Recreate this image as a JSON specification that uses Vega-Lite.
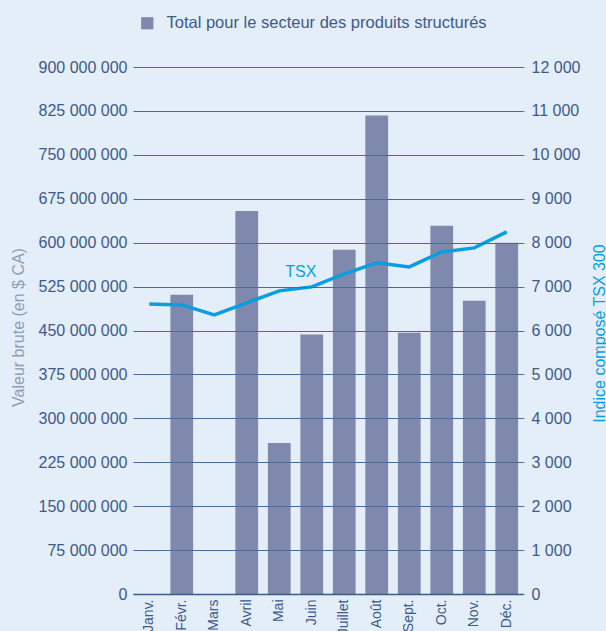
{
  "$schema": "https://vega.github.io/schema/vega-lite/v6.json",
  "width": 390,
  "height": 527,
  "autosize": "none",
  "padding": {"left": 133, "top": 67, "right": 83, "bottom": 37},
  "background": "#e4eef8",
  "config": {"view": {"stroke": null}, "font": "Liberation Sans"},
  "data": {"values": [
    {"mois": "Janv.", "valeur": 0, "tsx": 6606},
    {"mois": "Févr.", "valeur": 511000000, "tsx": 6583},
    {"mois": "Mars", "valeur": 0, "tsx": 6355},
    {"mois": "Avril", "valeur": 654000000, "tsx": 6629},
    {"mois": "Mai", "valeur": 258000000, "tsx": 6902},
    {"mois": "Juin", "valeur": 443000000, "tsx": 6993},
    {"mois": "Juillet", "valeur": 588000000, "tsx": 7289},
    {"mois": "Août", "valeur": 817000000, "tsx": 7540},
    {"mois": "Sept.", "valeur": 446000000, "tsx": 7449},
    {"mois": "Oct.", "valeur": 629000000, "tsx": 7790},
    {"mois": "Nov.", "valeur": 501000000, "tsx": 7881},
    {"mois": "Déc.", "valeur": 600000000, "tsx": 8246}
  ]},
  "encoding": {
    "x": {
      "field": "mois", "type": "ordinal", "sort": null,
      "scale": {"paddingInner": 0.3, "paddingOuter": 0.15},
      "axis": {
        "title": null, "labelAngle": -90, "labelAlign": "right", "labelBaseline": "middle",
        "labelFontSize": 14, "labelColor": "#3d5a8a", "ticks": false, "domain": true,
        "domainColor": "#3d5a8a", "domainWidth": 1.5, "labelPadding": 5, "zindex": 1
      }
    }
  },
  "layer": [
    {
      "mark": {"type": "bar"},
      "encoding": {
        "y": {
          "field": "valeur", "type": "quantitative",
          "scale": {"domain": [0, 900000000], "nice": false},
          "axis": {
            "values": [0, 75000000, 150000000, 225000000, 300000000, 375000000, 450000000, 525000000, 600000000, 675000000, 750000000, 825000000, 900000000],
            "labelExpr": "replace(format(datum.value, ','), regexp(',', 'g'), ' ')",
            "labelFontSize": 16, "labelColor": "#3d5a8a", "ticks": false,
            "labelPadding": 6, "domain": false, "grid": true, "gridColor": "#4a6a98", "gridWidth": 1,
            "title": "Valeur brute (en $ CA)", "titleColor": "#8e9cb6", "titleFontSize": 16,
            "titleFontWeight": "normal", "titleAngle": 270, "titleBaseline": "middle",
            "titleX": -115, "titleY": 260, "zindex": 1
          }
        },
        "color": {
          "datum": "Total pour le secteur des produits structurés",
          "scale": {"range": ["#7f89ad"]},
          "legend": {
            "title": null, "orient": "none", "legendX": 6, "legendY": -52,
            "symbolType": "square", "symbolSize": 150, "symbolStrokeWidth": 0,
            "labelFontSize": 16.5, "labelColor": "#3d5a8a", "labelOffset": 11, "labelLimit": 0
          }
        }
      }
    },
    {
      "mark": {"type": "line", "color": "#0a9ee0", "strokeWidth": 3.5},
      "encoding": {
        "y": {
          "field": "tsx", "type": "quantitative",
          "scale": {"domain": [0, 12000], "nice": false},
          "axis": {
            "orient": "right",
            "values": [0, 1000, 2000, 3000, 4000, 5000, 6000, 7000, 8000, 9000, 10000, 11000, 12000],
            "labelExpr": "replace(format(datum.value, ','), regexp(',', 'g'), ' ')",
            "labelFontSize": 16, "labelColor": "#3d5a8a", "tickColor": "#4a6a98", "tickSize": 1,
            "labelPadding": 7, "domain": false, "grid": false,
            "title": "Indice composé TSX 300", "titleColor": "#0a9ee0", "titleFontSize": 16,
            "titleFontWeight": "normal", "titleAngle": 270, "titleBaseline": "middle",
            "titleX": 76, "titleY": 266
          }
        }
      }
    },
    {
      "data": {"values": [{"mois": "Juin", "tsx": 7340, "label": "TSX"}]},
      "mark": {"type": "text", "color": "#0a9ee0", "fontSize": 16, "dx": -11},
      "encoding": {
        "y": {"field": "tsx", "type": "quantitative", "scale": {"domain": [0, 12000], "nice": false}, "axis": null},
        "text": {"field": "label"}
      }
    }
  ],
  "resolve": {"scale": {"y": "independent"}}
}
